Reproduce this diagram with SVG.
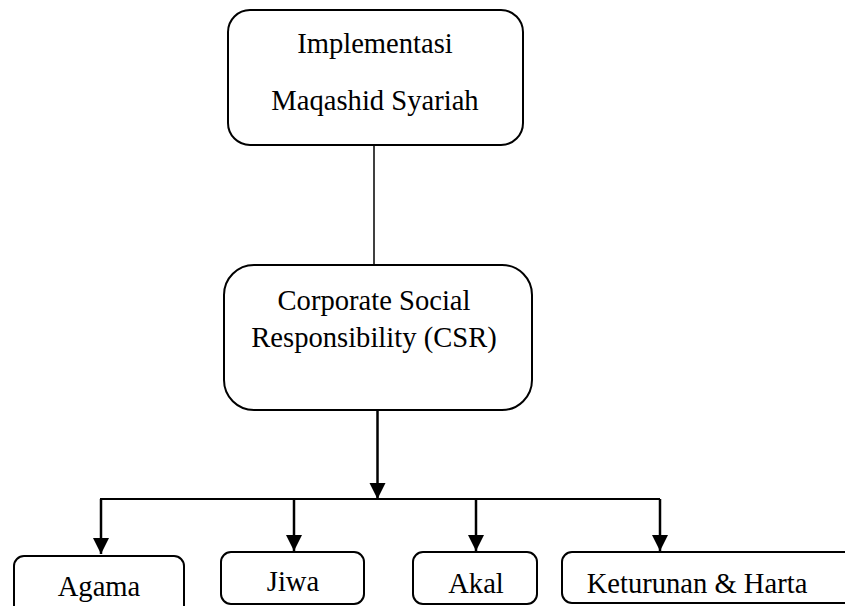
<svg xmlns="http://www.w3.org/2000/svg" width="845" height="606" viewBox="0 0 845 606">
<style>
.box{fill:#fff;stroke:#000;stroke-width:2}
.t{font-family:"Liberation Serif","Times New Roman",serif;font-size:28.6px;fill:#000;text-anchor:middle}
.ln{stroke:#000;fill:none}
</style>
<defs>
<marker id="ah" markerUnits="userSpaceOnUse" markerWidth="16" markerHeight="17" refX="16" refY="8" orient="auto">
<path d="M0,0 L16,8 L0,16 Z" fill="#000"/>
</marker>
</defs>
<rect width="845" height="606" fill="#fff"/>
<g id="connectors">
<line class="ln" x1="374" y1="145" x2="374" y2="265" stroke-width="1.5"/>
<line class="ln" x1="377.5" y1="410" x2="377.5" y2="499" stroke-width="2.5" marker-end="url(#ah)"/>
<line class="ln" x1="100" y1="499" x2="660" y2="499" stroke-width="2.2"/>
<line class="ln" x1="101" y1="499" x2="101" y2="554" stroke-width="2.5" marker-end="url(#ah)"/>
<line class="ln" x1="294" y1="499" x2="294" y2="551" stroke-width="2.5" marker-end="url(#ah)"/>
<line class="ln" x1="476" y1="499" x2="476" y2="551" stroke-width="2.5" marker-end="url(#ah)"/>
<line class="ln" x1="660" y1="499" x2="660" y2="551" stroke-width="2.5" marker-end="url(#ah)"/>
</g>
<g id="node-maqashid">
<rect class="box" x="228" y="10" width="295" height="135" rx="22"/>
<text class="t" x="375" y="53">Implementasi</text>
<text class="t" x="375" y="110">Maqashid Syariah</text>
</g>
<g id="node-csr">
<rect class="box" x="224" y="265" width="308" height="145" rx="30"/>
<text class="t" x="374" y="310">Corporate Social</text>
<text class="t" x="374" y="347">Responsibility (CSR)</text>
</g>
<g id="node-agama">
<rect class="box" x="14" y="556" width="170" height="70" rx="10"/>
<text class="t" x="99" y="596">Agama</text>
</g>
<g id="node-jiwa">
<rect class="box" x="221" y="552" width="143" height="52" rx="10"/>
<text class="t" x="293" y="591">Jiwa</text>
</g>
<g id="node-akal">
<rect class="box" x="413" y="552" width="124" height="52" rx="10"/>
<text class="t" x="476" y="593">Akal</text>
</g>
<g id="node-keturunan">
<rect class="box" x="562" y="552" width="300" height="51" rx="10"/>
<text class="t" x="697" y="593">Keturunan &amp; Harta</text>
</g>
</svg>
